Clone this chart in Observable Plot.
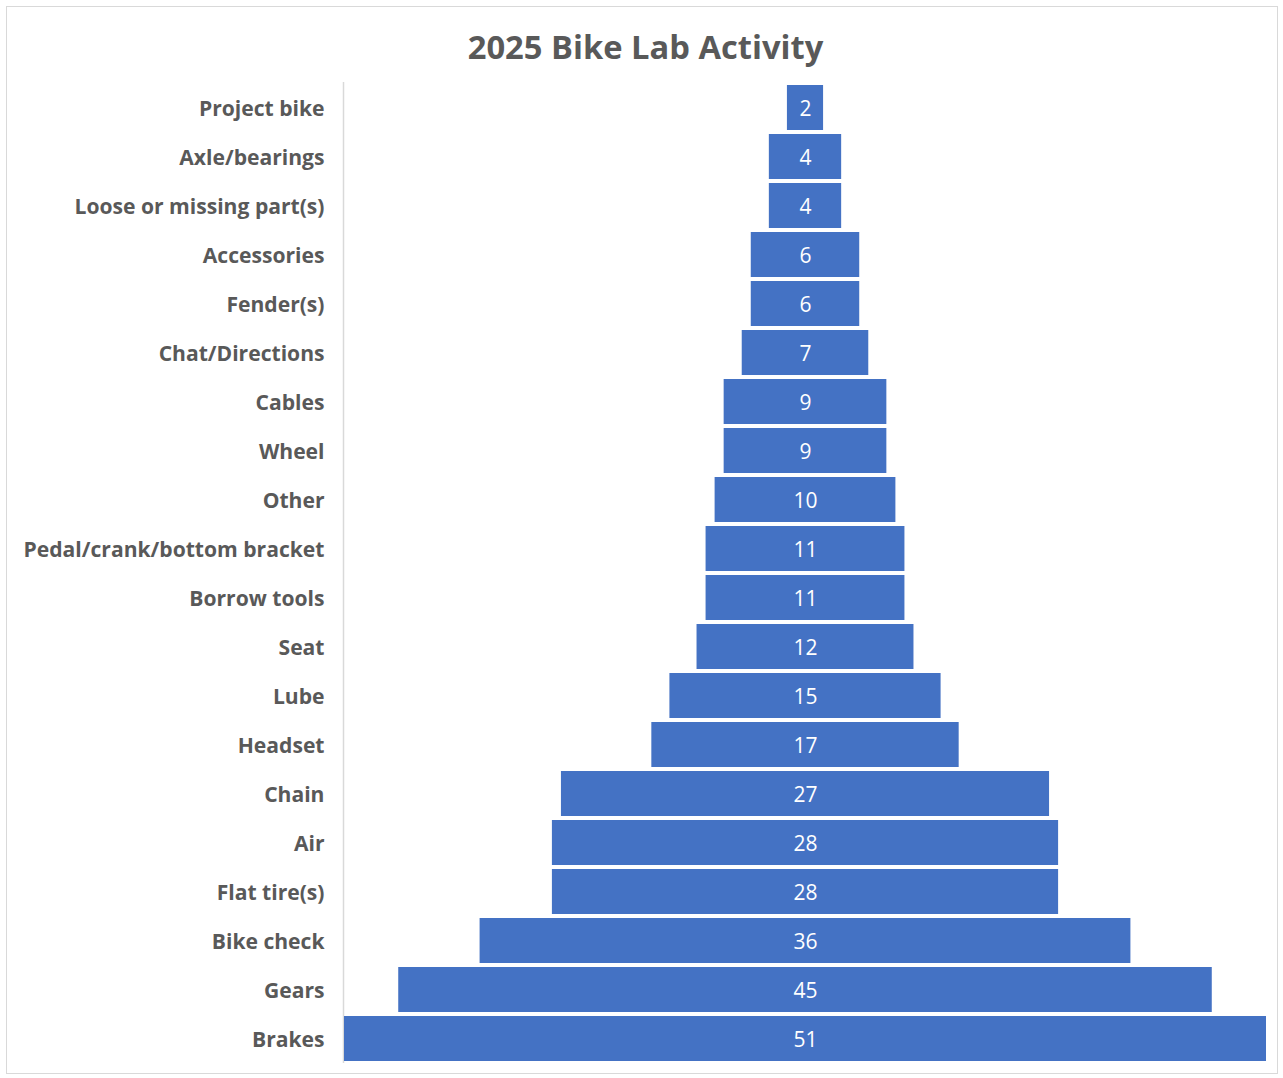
<!DOCTYPE html>
<html>
<head>
<meta charset="utf-8">
<script src="https://cdn.jsdelivr.net/npm/d3@7"></script>
<script src="https://cdn.jsdelivr.net/npm/@observablehq/plot@0.6"></script>
<style>
  html, body { margin: 0; padding: 0; background: #fff; }
  #frame { position: absolute; left: 6px; top: 6px; width: 1272px; height: 1068px; border: 1px solid #d9d9d9; box-sizing: border-box; }
  #title { position: absolute; left: 0; top: 0; width: 1283px; height: 82px; text-align: center;
           font-family: "Open Sans", sans-serif; font-weight: 700; font-size: 32.7px; color: #595959;
           line-height: 94px; padding-left: 8px; box-sizing: border-box; }
  #chart { position: absolute; left: 0; top: 82px; }
</style>
</head>
<body>
<div id="frame"></div>
<div id="title">2025 Bike Lab Activity</div>
<div id="chart"></div>
<script>
const categories = ["Project bike","Axle/bearings","Loose or missing part(s)","Accessories","Fender(s)","Chat/Directions","Cables","Wheel","Other","Pedal/crank/bottom bracket","Borrow tools","Seat","Lube","Headset","Chain","Air","Flat tire(s)","Bike check","Gears","Brakes"];
const counts = [2,4,4,6,6,7,9,9,10,11,11,12,15,17,27,28,28,36,45,51];

const data = categories.map((c, i) => ({name: c, value: counts[i]}));
const maxV = d3.max(counts);

const plot = Plot.plot({
  width: 1283,
  height: 996,
  marginTop: 0,
  marginBottom: 15,
  marginLeft: 344,
  marginRight: 17,
  style: {fontFamily: "'Open Sans', sans-serif", background: "transparent"},
  x: {domain: [-maxV / 2, maxV / 2], axis: null},
  y: {domain: categories, padding: 0, label: null, tickSize: 0, tickPadding: 20},
  marks: [
    Plot.axisY({tickSize: 0, tickPadding: 20, fontSize: 21.1, fontWeight: 700, fill: "#595959", label: null, dy: 1}),
    Plot.ruleX([-maxV / 2], {stroke: "#d9d9d9", strokeWidth: 1.5, dx: -1}),
    Plot.barX(data, {y: "name", x1: d => -d.value / 2, x2: d => d.value / 2, fill: "#4472C4", insetTop: 2, insetBottom: 2}),
    Plot.text(data, {y: "name", x: 0, text: d => String(d.value), fill: "white", fontSize: 21, dy: 1})
  ]
});
document.getElementById("chart").appendChild(plot);
</script>
</body>
</html>
